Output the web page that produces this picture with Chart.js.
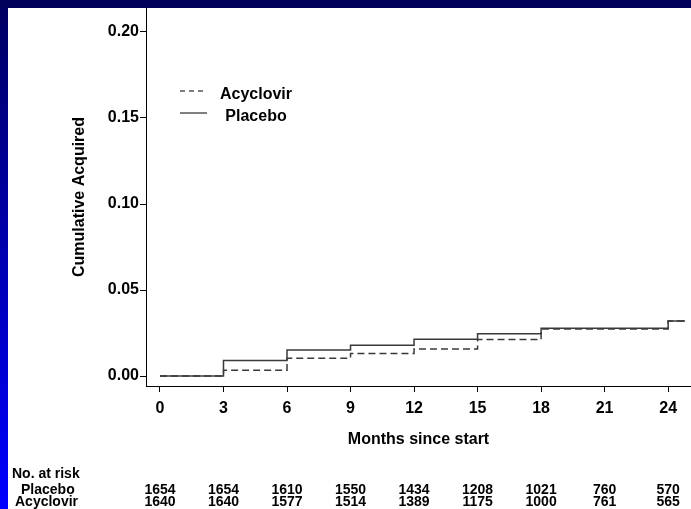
<!DOCTYPE html>
<html>
<head>
<meta charset="utf-8">
<script src="https://cdn.jsdelivr.net/npm/chart.js@4.4.1/dist/chart.umd.min.js"></script>
<style>
  html, body { margin: 0; padding: 0; }
  body {
    width: 691px; height: 509px; overflow: hidden; position: relative;
    background: linear-gradient(to bottom, #000060, #0000ff);
  }
  #topbar { position: absolute; left: 0; top: 0; width: 691px; height: 8px; background: #00005a; }
  #panel { position: absolute; left: 8px; top: 8px; width: 683px; height: 501px; background: #fff; }
</style>
</head>
<body>
<div id="topbar"></div>
<div id="panel"><canvas id="grafico" width="683" height="501"></canvas></div>
<script>
// 1. Data (step values, months)
const months = [0, 3, 6, 9, 12, 15, 18, 24, 24.8];
const placebo = [0, 0.0090, 0.0151, 0.0179, 0.0213, 0.0246, 0.0277, 0.0320, 0.0320];
const acyclovir = [0, 0.0034, 0.0103, 0.0131, 0.0157, 0.0212, 0.0273, 0.0320, 0.0320];

const monthTicks = [0, 3, 6, 9, 12, 15, 18, 21, 24];
const yTicks = [0, 0.05, 0.10, 0.15, 0.20];

// number at risk table
const riskMonths = [0, 3, 6, 9, 12, 15, 18, 21, 24];
const riskPlacebo = [1654, 1654, 1610, 1550, 1434, 1208, 1021, 760, 570];
const riskAcyclovir = [1640, 1640, 1577, 1514, 1389, 1175, 1000, 761, 565];

const FONT = '"Liberation Sans", Arial, Helvetica, sans-serif';
const pts = ys => months.map((m, i) => ({ x: m, y: ys[i] }));

// 2. Legend drawn inside the plot
const legendInside = {
    id: 'legendInside',
    afterDraw(chart) {
        const c = chart.ctx;
        c.save();
        chart.data.datasets.forEach((ds, i) => {
            const y = 83 + i * 22;
            c.strokeStyle = '#000';
            c.lineWidth = 1;
            c.setLineDash(ds.borderDash ? [5, 4] : []);
            c.beginPath();
            c.moveTo(172, y);
            c.lineTo(199, y);
            c.stroke();
            c.setLineDash([]);
            c.font = 'bold 16px ' + FONT;
            c.fillStyle = '#000';
            c.textAlign = 'center';
            c.textBaseline = 'middle';
            c.fillText(ds.label, 248, y + 4);
        });
        c.restore();
    }
};

// 3. "No. at risk" table under the axis
const riskTable = {
    id: 'riskTable',
    afterDraw(chart) {
        const c = chart.ctx;
        const sx = chart.scales.x;
        c.save();
        c.font = 'bold 14px ' + FONT;
        c.fillStyle = '#000';
        c.textBaseline = 'middle';
        c.textAlign = 'left';
        c.fillText('No. at risk', 4, 466);
        c.fillText('Placebo', 13, 482);
        c.fillText('Acyclovir', 7, 494);
        c.textAlign = 'center';
        riskMonths.forEach((m, i) => {
            const x = sx.getPixelForValue(m);
            c.fillText(String(riskPlacebo[i]), x, 482);
            c.fillText(String(riskAcyclovir[i]), x, 494);
        });
        c.restore();
    }
};

// 4. Chart
const ctx = document.getElementById('grafico');

new Chart(ctx, {
    type: 'line',
    data: {
        datasets: [{
            label: 'Acyclovir',
            data: pts(acyclovir),
            borderColor: '#3a3a3a',
            borderWidth: 1.5,
            borderDash: [7, 4],
            stepped: 'before',
            pointRadius: 0,
            fill: false
        }, {
            label: 'Placebo',
            data: pts(placebo),
            borderColor: '#3a3a3a',
            borderWidth: 1.5,
            stepped: 'before',
            pointRadius: 0,
            fill: false
        }]
    },
    options: {
        responsive: false,
        animation: false,
        layout: { padding: 0 },
        plugins: {
            legend: { display: false },
            tooltip: { enabled: false }
        },
        scales: {
            x: {
                type: 'linear',
                min: -0.66,
                max: 25.08,
                afterBuildTicks: s => { s.ticks = monthTicks.map(v => ({ value: v })); },
                afterFit: s => { s.height = 123; s.paddingLeft = 0; s.paddingRight = 0; },
                grid: { drawOnChartArea: false, drawTicks: true, tickLength: 6, color: '#000' },
                border: { display: true, color: '#000', width: 1 },
                ticks: {
                    color: '#000',
                    padding: 7,
                    maxRotation: 0,
                    autoSkip: false,
                    font: { family: FONT, size: 16, weight: 'bold' },
                    callback: v => String(v)
                },
                title: {
                    display: true,
                    text: 'Months since start',
                    color: '#000',
                    font: { family: FONT, size: 16, weight: 'bold' },
                    padding: { top: 0, bottom: 60 }
                }
            },
            y: {
                min: -0.00581,
                max: 0.21395,
                afterBuildTicks: s => { s.ticks = yTicks.map(v => ({ value: v })); },
                afterFit: s => { s.width = 138; s.paddingTop = 0; s.paddingBottom = 0; },
                grid: { drawOnChartArea: false, drawTicks: true, tickLength: 6, color: '#000' },
                border: { display: true, color: '#000', width: 1 },
                ticks: {
                    color: '#000',
                    padding: 1,
                    font: { family: FONT, size: 16, weight: 'bold' },
                    callback: v => Number(v).toFixed(2)
                },
                title: {
                    display: true,
                    text: 'Cumulative Acquired',
                    color: '#000',
                    font: { family: FONT, size: 16, weight: 'bold' },
                    padding: { top: 62.4, bottom: 0 }
                }
            }
        }
    },
    plugins: [legendInside, riskTable]
});
</script>
</body>
</html>
